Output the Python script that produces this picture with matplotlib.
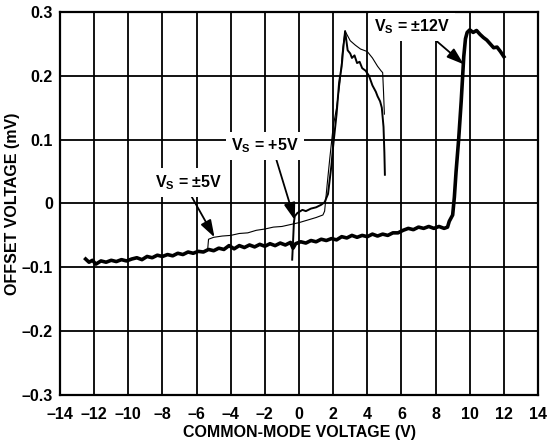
import matplotlib
matplotlib.use("Agg")
import matplotlib.pyplot as plt
from matplotlib.ticker import FuncFormatter

plt.rcParams['font.family'] = ['Liberation Sans', 'DejaVu Sans']
plt.rcParams['font.weight'] = 'bold'
plt.rcParams['mathtext.default'] = 'regular'

# Vs = ±12V (thick)
x12 = [-12.5,-12.3,-12.1,-11.9,-11.6,-11.3,-11.0,-10.7,-10.4,-10.1,-9.8,-9.5,-9.2,-8.9,-8.6,-8.3,-8.0,-7.7,-7.4,-7.1,
       -6.8,-6.5,-6.2,-5.9,-5.6,-5.3,-5.0,-4.7,-4.4,-4.1,-3.8,-3.5,-3.2,-2.9,-2.6,-2.3,-2.0,-1.7,-1.4,-1.1,
       -0.8,-0.5,-0.35,-0.2,0.1,0.4,0.7,1.0,1.3,1.6,1.9,2.2,2.5,2.8,3.1,3.4,3.7,4.0,4.3,4.6,
       4.9,5.2,5.5,5.8,6.1,6.4,6.7,7.0,7.3,7.6,7.9,8.2,8.5,8.7,8.8,9.0,9.1,9.2,9.35,9.5,
       9.65,9.75,9.85,10.0,10.2,10.4,10.6,10.8,11.0,11.2,11.4,11.6,11.8,12.0]
y12 = [-0.087,-0.092,-0.089,-0.095,-0.090,-0.092,-0.089,-0.091,-0.088,-0.090,-0.087,-0.085,-0.088,-0.083,-0.085,-0.081,-0.083,-0.080,-0.082,-0.078,
       -0.080,-0.076,-0.078,-0.075,-0.076,-0.072,-0.074,-0.070,-0.072,-0.066,-0.071,-0.066,-0.069,-0.065,-0.068,-0.064,-0.067,-0.063,-0.066,-0.062,
       -0.065,-0.061,-0.070,-0.063,-0.060,-0.062,-0.058,-0.060,-0.056,-0.058,-0.055,-0.057,-0.052,-0.054,-0.050,-0.053,-0.050,-0.052,-0.048,-0.051,
       -0.048,-0.050,-0.046,-0.046,-0.042,-0.039,-0.041,-0.037,-0.039,-0.036,-0.039,-0.036,-0.039,-0.037,-0.028,-0.018,0.010,0.050,0.100,0.160,
       0.230,0.258,0.268,0.272,0.268,0.271,0.265,0.260,0.256,0.250,0.244,0.245,0.238,0.230]

# Vs = ±5V (thin)
x5d = [-5.35,-5.3,-5.0,-4.5,-4.0,-3.5,-3.0,-2.5,-2.0,-1.5,-1.0,-0.5,0.0,0.5,1.0,1.4,1.5,1.65,1.8,2.0,
       2.2,2.4,2.55,2.7,3.0,3.3,3.6,4.0,4.3,4.6,4.8,4.9,4.95,5.0]
y5d = [-0.072,-0.056,-0.053,-0.051,-0.050,-0.047,-0.046,-0.042,-0.040,-0.037,-0.036,-0.033,-0.030,-0.026,-0.022,-0.018,-0.012,0.030,0.070,0.120,
       0.150,0.190,0.240,0.270,0.255,0.248,0.242,0.238,0.228,0.215,0.208,0.205,0.175,0.140]

# Vs = +5V (medium)
x5s = [-0.4,-0.35,-0.3,-0.25,-0.1,0.2,0.4,0.7,1.0,1.3,1.5,1.7,1.9,2.0,2.2,2.35,2.5,2.6,2.7,2.85,
       3.0,3.1,3.25,3.4,3.55,3.7,3.9,4.1,4.3,4.5,4.6,4.75,4.85,4.95,5.0,5.03]
y5s = [-0.088,-0.060,-0.030,-0.020,-0.015,-0.010,-0.012,-0.008,-0.006,-0.002,0.002,0.015,0.060,0.090,0.140,0.190,0.215,0.245,0.270,0.240,
       0.235,0.228,0.232,0.220,0.222,0.212,0.208,0.200,0.185,0.175,0.168,0.160,0.150,0.120,0.080,0.045]

xticks = list(range(-14, 15, 2))
yticks = [-0.3, -0.2, -0.1, 0.0, 0.1, 0.2, 0.3]

FS = 11.5

fig = plt.figure(figsize=(5.49, 4.44), dpi=100)
ax = fig.add_axes([0.1093, 0.1104, 0.8707, 0.8626])

ax.plot(x12, y12, color='black', lw=2.6, solid_joinstyle='round', zorder=3)
ax.plot(x5s, y5s, color='black', lw=1.4, zorder=3)
ax.plot(x5d, y5d, color='black', lw=0.8, zorder=3)

ax.set_xlim(-14, 14)
ax.set_ylim(-0.3, 0.3)
ax.set_xticks(xticks)
ax.set_yticks(yticks)

def fmt(v, pos):
    s = ('%g' % round(v, 2))
    return s.replace('-', '\u2013')
ax.xaxis.set_major_formatter(FuncFormatter(fmt))
ax.yaxis.set_major_formatter(FuncFormatter(fmt))
ax.tick_params(length=0, labelsize=FS)
ax.tick_params(axis='x', pad=9)
ax.tick_params(axis='y', pad=5)
for lab in ax.get_xticklabels() + ax.get_yticklabels():
    lab.set_fontweight('bold')

ax.grid(True, color='black', lw=1.3)
ax.set_axisbelow(True)
for sp in ax.spines.values():
    sp.set_linewidth(1.6)

ax.set_xlabel('COMMON-MODE VOLTAGE (V)', fontsize=FS, fontweight='bold', labelpad=2)
ax.set_ylabel('OFFSET VOLTAGE (mV)', fontsize=FS, fontweight='bold', labelpad=1)

arrow = dict(arrowstyle='-|>,head_length=0.9,head_width=0.3', lw=1.3, color='black', shrinkA=0, shrinkB=0)
bbox = dict(boxstyle='square,pad=0.3', fc='white', ec='none')

ax.annotate('V$_{S}$ = \u00b112V', xy=(9.65, 0.218), xytext=(6.6, 0.277), fontsize=FS, fontweight='bold',
            ha='center', va='center', bbox=bbox, arrowprops=dict(arrow, relpos=(0.75, 0.0)), zorder=4)
ax.annotate('V$_{S}$ = +5V', xy=(-0.25, -0.026), xytext=(-2.0, 0.09), fontsize=FS, fontweight='bold',
            ha='center', va='center', bbox=bbox, arrowprops=dict(arrow, relpos=(0.65, 0.0)), zorder=4)
ax.annotate('V$_{S}$ = \u00b15V', xy=(-4.95, -0.053), xytext=(-6.45, 0.033), fontsize=FS, fontweight='bold',
            ha='center', va='center', bbox=bbox, arrowprops=dict(arrow, relpos=(0.5, 0.0)), zorder=4)

fig.savefig('out.png', dpi=100)
